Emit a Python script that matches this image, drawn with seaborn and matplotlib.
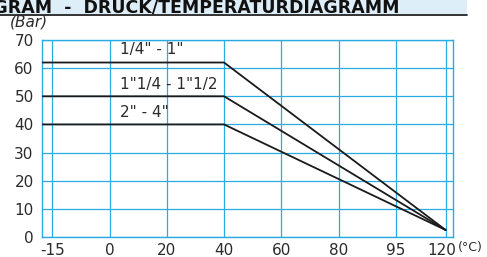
import numpy as np
import pandas as pd
import matplotlib
matplotlib.use("Agg")
import matplotlib.pyplot as plt
import matplotlib.transforms as mtransforms
import seaborn as sns

# ----------------------------------------------------
# Data
# ----------------------------------------------------
SIZES = ['1/4" - 1"', '1"1/4 - 1"1/2', '2" - 4"']
PRESSURE_MAX = [62, 50, 40]          # bar, flat part
PRESSURE_AT_120 = 2.5                # all lines meet here
TEMP_POINTS = [-20, 40, 120]         # start (left edge), knee, end

X_TICKS = [-15, 0, 20, 40, 60, 80, 95, 120]
Y_TICKS = [0, 10, 20, 30, 40, 50, 60, 70]

# the chart uses an uneven temperature axis: ticks are equally spaced
T_KNOTS = [-20, -15, 0, 20, 40, 60, 80, 95, 120, 125]
P_KNOTS = [-0.18, 0, 1, 2, 3, 4, 5, 6, 6.87, 7.0]

GRID_BLUE = "#2aace2"
TEXT = "#2b2b2b"

rows = []
for size, pmax in zip(SIZES, PRESSURE_MAX):
    for t, p in zip(TEMP_POINTS, [pmax, pmax, PRESSURE_AT_120]):
        rows.append({"size": size, "temp": t, "bar": p})
df = pd.DataFrame(rows)

sns.set_theme(style="white")
plt.rcParams["font.family"] = ["DejaVu Sans"]

fig = plt.figure(figsize=(4.87, 2.57), dpi=100)
ax = fig.add_axes([42 / 487, 1 - 237 / 257, (453 - 42) / 487, (237 - 40) / 257])


def fwd(t):
    return np.interp(t, T_KNOTS, P_KNOTS)


def inv(p):
    return np.interp(p, P_KNOTS, T_KNOTS)


ax.set_xscale("function", functions=(fwd, inv))

sns.lineplot(
    ax=ax, data=df, x="temp", y="bar", hue="size",
    palette=["#1a1a1a"] * 3, linewidth=1.3, legend=False,
    sort=False, zorder=3
)

ax.set_xlim(-20, 125)
ax.set_ylim(0, 70)
ax.set_xticks(X_TICKS)
ax.set_xticklabels([str(t) for t in X_TICKS])
ax.set_yticks(Y_TICKS)
ax.set_xlabel("")
ax.set_ylabel("")
ax.tick_params(axis="both", length=0, labelsize=11, colors=TEXT)
ax.tick_params(axis="x", pad=4)
ax.tick_params(axis="y", pad=6)

# nudge the last tick label a little to the left, as in the original
shift = mtransforms.ScaledTranslation(-4 / 100, 0, fig.dpi_scale_trans)
last = ax.get_xticklabels()[-1]
last.set_transform(last.get_transform() + shift)

ax.grid(True, color=GRID_BLUE, linewidth=0.9)
ax.set_axisbelow(True)
for sp in ax.spines.values():
    sp.set_color(GRID_BLUE)
    sp.set_linewidth(1.0)

# size labels above each line
LABEL_Y = [66.5, 54.2, 44.2]
for size, ly in zip(SIZES, LABEL_Y):
    ax.text(3.5, ly, size, fontsize=11, color=TEXT, va="center", ha="left")

# units
fig.text(10 / 487, 1 - 22 / 257, "(Bar)", fontsize=11, style="italic",
         color=TEXT, va="center", ha="left")
fig.text(458 / 487, 1 - 248 / 257, "(°C)", fontsize=9, color=TEXT,
         va="center", ha="left")

# clipped header band at the top
fig.patches.append(plt.Rectangle((0, 1 - 14 / 257), 467 / 487, 14 / 257,
                                 transform=fig.transFigure,
                                 facecolor="#deeef9", edgecolor="none", zorder=0))
fig.add_artist(plt.Line2D([0, 467 / 487], [1 - 14.5 / 257] * 2,
                          transform=fig.transFigure, color="#111111", linewidth=1.2))
fig.text(400 / 487, 1 - 12 / 257,
         "PRESSURE/TEMPERATURE DIAGRAM  -  DRUCK/TEMPERATURDIAGRAMM",
         fontsize=12.5, fontweight="bold", color="#111111",
         va="baseline", ha="right")

fig.savefig("out.png", dpi=100)
